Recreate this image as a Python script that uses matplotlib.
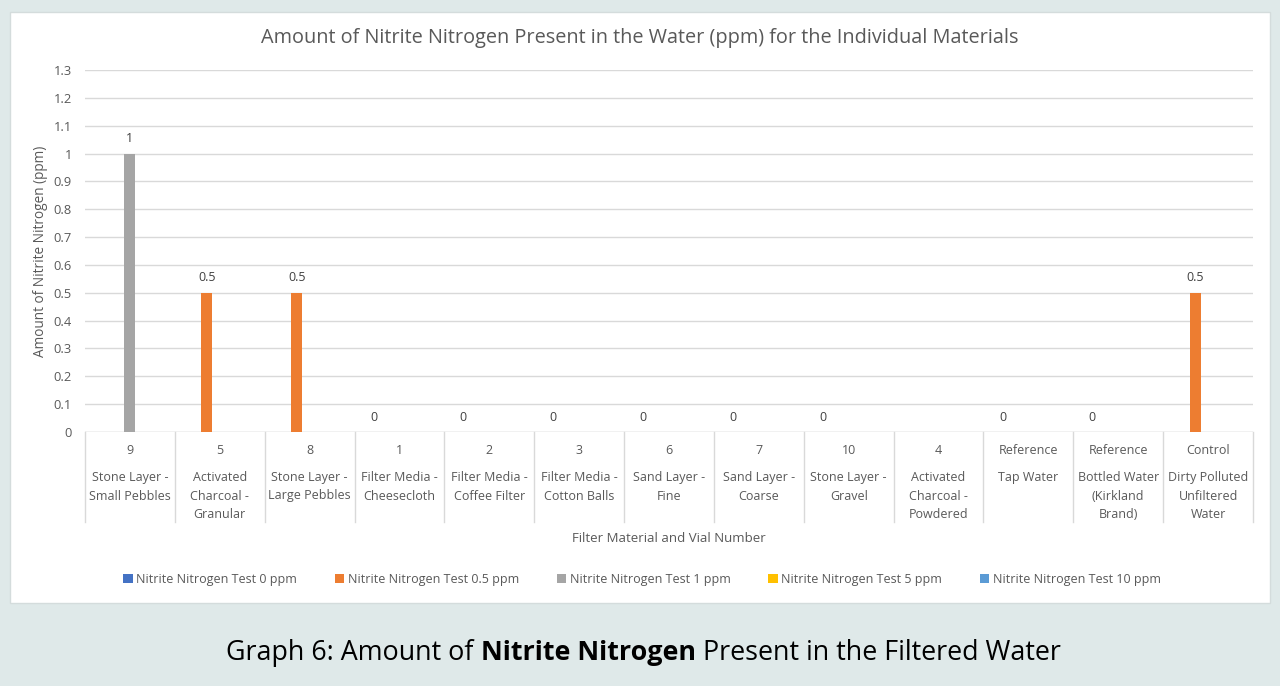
import numpy as np
import matplotlib
matplotlib.use("Agg")
import matplotlib.pyplot as plt
from matplotlib.patches import Rectangle
import matplotlib.transforms as mtransforms

plt.rcParams['font.family'] = ['Open Sans', 'DejaVu Sans']

vials = ['9', '5', '8', '1', '2', '3', '6', '7', '10', '4', 'Reference', 'Reference', 'Control']
materials = ['Stone Layer -\nSmall Pebbles', 'Activated\nCharcoal -\nGranular', 'Stone Layer -\nLarge Pebbles',
             'Filter Media -\nCheesecloth', 'Filter Media -\nCoffee Filter', 'Filter Media -\nCotton Balls',
             'Sand Layer -\nFine', 'Sand Layer -\nCoarse', 'Stone Layer -\nGravel',
             'Activated\nCharcoal -\nPowdered', 'Tap Water', 'Bottled Water\n(Kirkland\nBrand)',
             'Dirty Polluted\nUnfiltered\nWater']
nan = np.nan
test_0 = [nan, nan, nan, 0, 0, 0, 0, 0, 0, nan, 0, 0, nan]
test_05 = [nan, 0.5, 0.5, nan, nan, nan, nan, nan, nan, nan, nan, nan, 0.5]
test_1 = [1, nan, nan, nan, nan, nan, nan, nan, nan, nan, nan, nan, nan]
test_5 = [nan] * 13
test_10 = [nan] * 13
series = [test_0, test_05, test_1, test_5, test_10]
names = ['Nitrite Nitrogen Test 0 ppm', 'Nitrite Nitrogen Test 0.5 ppm', 'Nitrite Nitrogen Test 1 ppm',
         'Nitrite Nitrogen Test 5 ppm', 'Nitrite Nitrogen Test 10 ppm']
colors = ['#4472C4', '#ED7D31', '#A5A5A5', '#FFC000', '#5B9BD5']

W, H = 1280, 686
fig = plt.figure(figsize=(W / 100, H / 100), dpi=100, facecolor='#dfe9e9')

# white chart panel
fig.patches.append(Rectangle((10 / W, 1 - 603 / H), 1260 / W, 591 / H, transform=fig.transFigure,
                             facecolor='white', edgecolor='#d4dcdc', lw=1, zorder=-10))

ax = fig.add_axes([85 / W, 1 - 432 / H, 1168 / W, 362 / H])
ax.set_zorder(1)
ax.set_facecolor('none')
x = np.arange(len(vials))
step = 0.144
for i, (vals, nm, c) in enumerate(zip(series, names, colors)):
    bars = ax.bar(x + (i - 2) * step, vals, width=0.122, color=c, label=nm, zorder=3)
    labs = ['' if np.isnan(v) else ('%g' % v) for v in vals]
    ax.bar_label(bars, labels=labs, padding=6, fontsize=9, color='#404040')

ax.set_xlim(-0.5, len(vials) - 0.5)
ax.set_ylim(0, 1.3)
ax.set_yticks(np.arange(0, 1.31, 0.1))
ax.set_yticklabels(['0'] + ['%g' % round(v, 1) for v in np.arange(0.1, 1.31, 0.1)])
ax.tick_params(axis='y', length=0, pad=9.5, labelsize=9.3, labelcolor='#595959')
ax.set_xticks([])
ax.grid(axis='y', color='#d9d9d9', lw=1, zorder=0)
for s in ax.spines.values():
    s.set_visible(False)
ax.axhline(0, color='#d9d9d9', lw=1, zorder=2)

# category table below the axis
tr = mtransforms.blended_transform_factory(ax.transData, ax.transAxes)
bot = -90 / 362
for b in np.arange(-0.5, len(vials), 1):
    ax.plot([b, b], [0, bot], transform=tr, color='#d9d9d9', lw=1, clip_on=False)
for xi, v, m in zip(x, vials, materials):
    ax.text(xi, -18 / 362, v, transform=tr, ha='center', va='center', fontsize=9, color='#595959')
    ax.text(xi, -39 / 362, m, transform=tr, ha='center', va='top', fontsize=9, color='#595959',
            linespacing=1.55)

ax.set_ylabel('Amount of Nitrite Nitrogen (ppm)', fontsize=9.8, color='#595959')
ax.yaxis.set_label_coords(-37 / 1168, 0.5)
ax.text(0.5, -106 / 362, 'Filter Material and Vial Number', transform=ax.transAxes, ha='center',
        va='center', fontsize=9.5, color='#595959')
fig.text(0.5, 1 - 38 / H, 'Amount of Nitrite Nitrogen Present in the Water (ppm) for the Individual Materials',
         ha='center', va='center', fontsize=14.3, color='#595959')

fig.legend(loc='center', bbox_to_anchor=(642 / W, 1 - 579 / H), ncol=5, frameon=False, fontsize=9,
           handlelength=0.75, handleheight=0.75, columnspacing=3.0, handletextpad=0.3,
           labelcolor='#595959')

# caption with bold middle part
parts = [('Graph 6: Amount of ', 'normal'), ('Nitrite Nitrogen', 'bold'),
         (' Present in the Filtered Water', 'normal')]
r = fig.canvas.get_renderer()
txts = [fig.text(0, 1 - 653 / H, s, fontsize=19.4, fontweight=w, color='black', va='center') for s, w in parts]
widths = [t.get_window_extent(r).width for t in txts]
xpos = 643.5 - sum(widths) / 2
for t, w in zip(txts, widths):
    t.set_x(xpos / W)
    xpos += w

fig.savefig('out.png', dpi=100, facecolor=fig.get_facecolor())
